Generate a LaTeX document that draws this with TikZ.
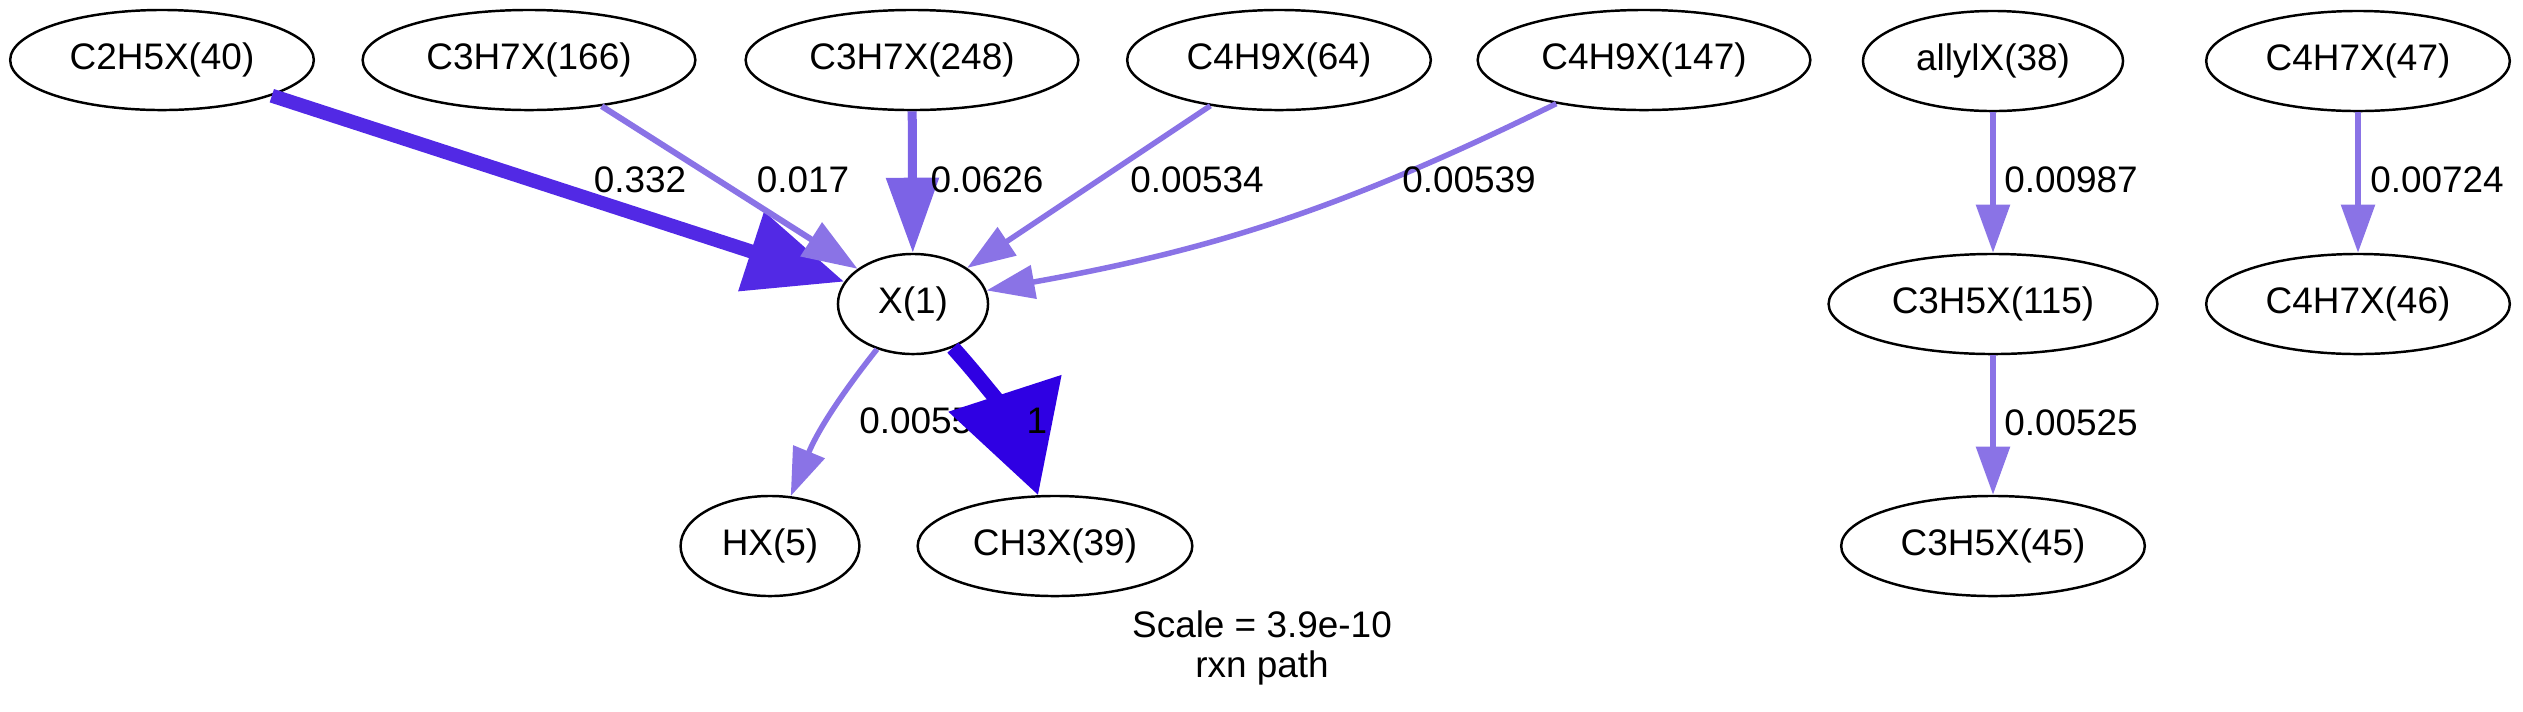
\documentclass[tikz,border=0pt]{standalone}
\usepackage{fontspec}
\setmainfont{Liberation Sans}
\usepackage{tikz}
\usetikzlibrary{arrows.meta, shapes.geometric}
\definecolor{rxnlow}{HTML}{8A73E6}
\definecolor{rxnmid}{HTML}{7C63E6}
\definecolor{rxnhigh}{HTML}{5229E5}
\definecolor{rxnmax}{HTML}{2F00E3}
\tikzset{
  species/.style={ellipse, draw=black, line width=0.7pt, inner xsep=0.15cm, inner ysep=0pt,
                  minimum height=1cm, minimum width=1.5cm},
  flux/.style n args={3}{line width=#1, -{Triangle[length=#2, width=#3]}},
  lbl/.style={inner sep=0pt}
}

\begin{document}
\begin{tikzpicture}[x=0.01cm, y=-0.01cm, font=\fontsize{10.5}{11.4}\selectfont]
    \useasboundingbox (0,0) rectangle (2523,711);

    % top row
    \node[species] (c2h5x) at (162,60) {C2H5X(40)};
    \node[species] (c3h7xa) at (529,60) {C3H7X(166)};
    \node[species] (c3h7xb) at (912,60) {C3H7X(248)};
    \node[species] (c4h9xa) at (1279,60) {C4H9X(64)};
    \node[species] (c4h9xb) at (1644,60) {C4H9X(147)};
    \node[species] (allylx) at (1993,61) {allylX(38)};
    \node[species] (c4h7xa) at (2358,61) {C4H7X(47)};

    % middle row
    \node[species] (x1) at (913,304) {X(1)};
    \node[species] (c3h5xa) at (1993,304) {C3H5X(115)};
    \node[species] (c4h7xb) at (2358,304) {C4H7X(46)};

    % bottom row
    \node[species] (hx) at (770,546) {HX(5)};
    \node[species] (ch3x) at (1055,546) {CH3X(39)};
    \node[species] (c3h5xb) at (1993,546) {C3H5X(45)};

    \node[align=center] (caption) at (1262,648) {Scale = 3.9e-10\\rxn path};

    \draw[flux={0.14cm}{0.98cm}{0.80cm}, draw=rxnhigh] (c2h5x) -- (x1)
      node[lbl] (f332) at (640,180) {0.332};
    \draw[flux={0.06cm}{0.55cm}{0.39cm}, draw=rxnlow] (c3h7xa) -- (x1)
      node[lbl] (f017) at (803,180) {0.017};
    \draw[flux={0.09cm}{0.75cm}{0.51cm}, draw=rxnmid] (c3h7xb) -- (x1)
      node[lbl] (f0626) at (987,180) {0.0626};
    \draw[flux={0.055cm}{0.48cm}{0.33cm}, draw=rxnlow] (c4h9xa) -- (x1)
      node[lbl] (f534) at (1197,180) {0.00534};
    \draw[flux={0.055cm}{0.48cm}{0.33cm}, draw=rxnlow] (c4h9xb) to[bend left=8] (x1)
      node[lbl] (f539) at (1469,180) {0.00539};
    \draw[flux={0.055cm}{0.48cm}{0.33cm}, draw=rxnlow] (x1) to[bend right=8] (hx)
      node[lbl] (f555) at (926,421) {0.00555};
    \draw[flux={0.15cm}{1.07cm}{1.15cm}, draw=rxnmax] (x1) to[bend left=12] (ch3x)
      node[lbl] (f1) at (1037,421) {1};

    \draw[flux={0.055cm}{0.48cm}{0.33cm}, draw=rxnlow] (allylx) -- (c3h5xa)
      node[lbl] (f987) at (2071,180) {0.00987};
    \draw[flux={0.055cm}{0.48cm}{0.33cm}, draw=rxnlow] (c3h5xa) -- (c3h5xb)
      node[lbl] (f525) at (2071,423) {0.00525};
    \draw[flux={0.055cm}{0.48cm}{0.33cm}, draw=rxnlow] (c4h7xa) -- (c4h7xb)
      node[lbl] (f724) at (2437,180) {0.00724};
  \end{tikzpicture}
\end{document}
